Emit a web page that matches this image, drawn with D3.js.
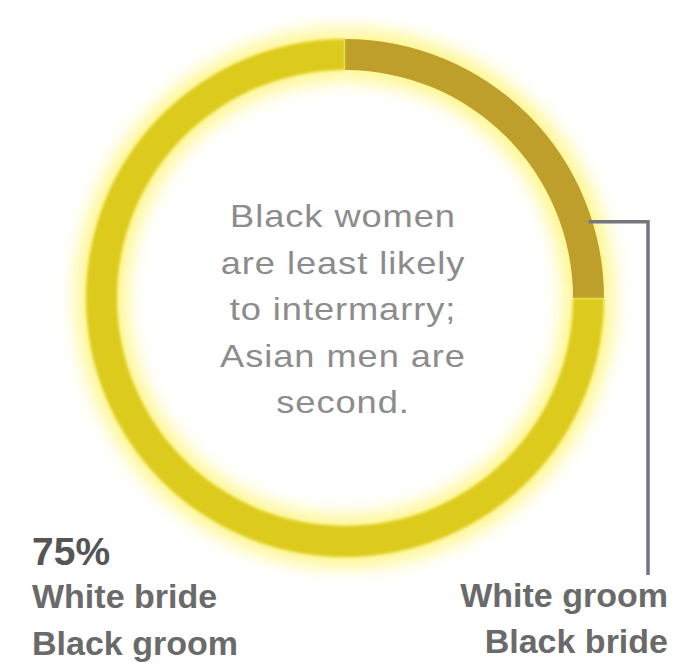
<!DOCTYPE html>
<html lang="en">
<head>
<meta charset="UTF-8">
<title>Intermarriage donut</title>
<script src="https://d3js.org/d3.v7.min.js"></script>
<style>
    body { margin: 0; background: #ffffff; }
    svg { display: block; }
    .note { font-family: "Liberation Sans", Arial, sans-serif; font-size: 31px; fill: #8c8c8c; letter-spacing: 0.8px; }
    .lbl { font-family: "Liberation Sans", Arial, sans-serif; font-weight: bold; font-size: 34px; fill: #6a6a6a; }
    .pct { font-family: "Liberation Sans", Arial, sans-serif; font-weight: bold; font-size: 39px; fill: #555555; }
</style>
</head>
<body>
<div id="chart"></div>
<script>
    // data
    const categories = ["White groom / Black bride", "White bride / Black groom"];
    const shares = [25, 75];
    const colors = ["#bf9f2c", "#dccb1e"];
    const noteLines = ["Black women", "are least likely", "to intermarry;", "Asian men are", "second."];
    const leftLabel = ["White bride", "Black groom"];
    const rightLabel = ["White groom", "Black bride"];

    const width = 691, height = 665;
    const cx = 345, cy = 298;
    const rOuter = 259, rInner = 228;

    const svg = d3.select("#chart").append("svg")
        .attr("width", width)
        .attr("height", height);

    const defs = svg.append("defs");
    const glow = defs.append("filter").attr("id", "glow")
        .attr("x", "-20%").attr("y", "-20%").attr("width", "140%").attr("height", "140%");
    glow.append("feGaussianBlur").attr("stdDeviation", 9);
    const soft = defs.append("filter").attr("id", "soft");
    soft.append("feGaussianBlur").attr("stdDeviation", 1.8);

    const pie = d3.pie().sort(null).value(d => d);
    const arcs = pie(shares);

    const arc = d3.arc().innerRadius(rInner).outerRadius(rOuter);
    const haloArc = d3.arc().innerRadius(rInner - 10).outerRadius(rOuter + 10);

    const g = svg.append("g").attr("transform", `translate(${cx},${cy})`);

    // yellow halo behind the whole ring
    g.selectAll("path.halo")
        .data(arcs)
        .join("path")
        .attr("class", "halo")
        .attr("d", haloArc)
        .attr("fill", "#fff35c")
        .attr("opacity", 0.7)
        .attr("filter", "url(#glow)");

    g.selectAll("path.slice")
        .data(arcs)
        .join("path")
        .attr("class", "slice")
        .attr("d", arc)
        .attr("fill", (d, i) => colors[i])
        .attr("filter", (d, i) => i === 1 ? "url(#soft)" : null);

    // leader line from the 25% slice to the right label
    const a0 = arcs[0];
    const attachAngle = a0.startAngle + (a0.endAngle - a0.startAngle) * 0.81;
    const ax = cx + rOuter * Math.sin(attachAngle) - 4;
    const ay = cy - rOuter * Math.cos(attachAngle);
    const lineX = 648, lineBottom = 575;
    svg.append("path")
        .attr("d", d3.line()([[ax, ay], [lineX, ay], [lineX, lineBottom]]))
        .attr("fill", "none")
        .attr("stroke", "#77767e")
        .attr("stroke-width", 3.5);

    // centre note (type set wide, as in the print original)
    svg.append("g").selectAll("text")
        .data(noteLines)
        .join("text")
        .attr("class", "note")
        .attr("transform", (d, i) => `translate(${cx - 2},${227 + i * 46.5}) scale(1.17,1)`)
        .attr("text-anchor", "middle")
        .text(d => d);

    // left label
    svg.append("text").attr("class", "pct")
        .attr("x", 32).attr("y", 565)
        .text(shares[1] + "%");
    svg.append("g").selectAll("text")
        .data(leftLabel)
        .join("text")
        .attr("class", "lbl")
        .attr("x", 32)
        .attr("y", (d, i) => 608 + i * 47)
        .text(d => d);

    // right label
    svg.append("g").selectAll("text")
        .data(rightLabel)
        .join("text")
        .attr("class", "lbl")
        .attr("x", 668)
        .attr("y", (d, i) => 607 + i * 46)
        .attr("text-anchor", "end")
        .text(d => d);
</script>
</body>
</html>
